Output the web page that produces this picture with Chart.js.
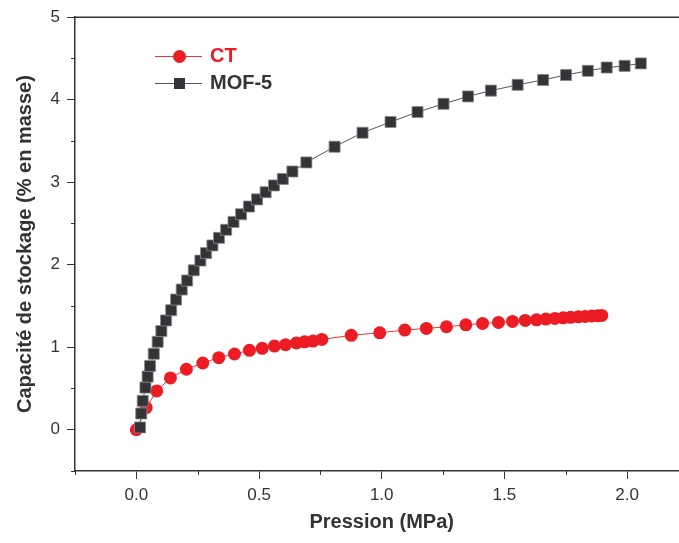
<!DOCTYPE html>
<html lang="fr">
<head>
<meta charset="utf-8">
<title>Capacité de stockage</title>
<script src="https://cdn.jsdelivr.net/npm/chart.js@4.4.0/dist/chart.umd.min.js"></script>
<style>
  html, body { margin: 0; padding: 0; background: #fff; overflow: hidden; }
  #wrap { position: relative; width: 697px; height: 543px; }
  .leg { position: absolute; left: 155px; height: 20px; font: bold 20px "Liberation Sans", Arial, sans-serif; }
  .leg .ln { position: absolute; left: 0; top: 10px; width: 47px; height: 1px; }
  .leg .mk { position: absolute; }
  .leg span.txt { position: absolute; left: 55px; top: -2px; white-space: nowrap; }
</style>
</head>
<body>
<div id="wrap">
  <canvas id="graphique"></canvas>
  <div class="leg" style="top:46px">
    <div class="ln" style="background:#e8333a"></div>
    <div class="mk" style="left:18px;top:4px;width:13px;height:13px;border-radius:50%;background:#ec1c24"></div>
    <span class="txt" style="color:#ec1c24">CT</span>
  </div>
  <div class="leg" style="top:73px">
    <div class="ln" style="background:#555"></div>
    <div class="mk" style="left:19px;top:5px;width:11px;height:11px;background:#333338"></div>
    <span class="txt" style="color:#333338">MOF-5</span>
  </div>
</div>
<script>
// données
const pressionCT = [0, 0.040, 0.083, 0.139, 0.204, 0.271, 0.336, 0.400, 0.461, 0.513, 0.563, 0.608, 0.652,
  0.686, 0.720, 0.756, 0.876, 0.992, 1.094, 1.182, 1.264, 1.343, 1.411, 1.476, 1.533, 1.585, 1.631,
  1.669, 1.706, 1.740, 1.770, 1.801, 1.829, 1.856, 1.880, 1.897];
const capaciteCT = [0, 0.269, 0.471, 0.628, 0.733, 0.809, 0.873, 0.918, 0.963, 0.987, 1.014, 1.030, 1.051,
  1.066, 1.075, 1.095, 1.144, 1.175, 1.208, 1.228, 1.248, 1.272, 1.289, 1.301, 1.313, 1.325, 1.332,
  1.341, 1.349, 1.356, 1.362, 1.368, 1.374, 1.379, 1.383, 1.385];

const pressionMOF = [0.015, 0.020, 0.026, 0.037, 0.046, 0.056, 0.071, 0.087, 0.102, 0.121, 0.142, 0.162,
  0.185, 0.207, 0.234, 0.261, 0.284, 0.310, 0.337, 0.366, 0.396, 0.427, 0.459, 0.492, 0.527, 0.561,
  0.597, 0.636, 0.693, 0.808, 0.922, 1.036, 1.146, 1.252, 1.352, 1.445, 1.554, 1.658, 1.751, 1.840,
  1.917, 1.990, 2.056];
const capaciteMOF = [0.028, 0.197, 0.350, 0.511, 0.644, 0.773, 0.921, 1.066, 1.196, 1.325, 1.449, 1.578,
  1.699, 1.808, 1.932, 2.050, 2.141, 2.234, 2.326, 2.423, 2.519, 2.612, 2.705, 2.792, 2.879, 2.961,
  3.040, 3.130, 3.240, 3.430, 3.600, 3.730, 3.850, 3.950, 4.040, 4.110, 4.180, 4.240, 4.300, 4.350,
  4.390, 4.410, 4.440];

const ticksX = [0, 0.5, 1, 1.5, 2];
const ticksY = [0, 1, 2, 3, 4, 5];

const couleurAxe = '#333';
const police = '"Liberation Sans", Arial, sans-serif';

function points(xs, ys) {
  return xs.map((x, i) => ({ x: x, y: ys[i] }));
}

function estMajeur(liste, v) {
  return liste.some(t => Math.abs(t - v) < 1e-6);
}

// cadre du haut + petites graduations
const cadre = {
  id: 'cadre',
  afterDraw(chart) {
    const { ctx, chartArea, scales } = chart;
    ctx.save();
    ctx.strokeStyle = couleurAxe;
    ctx.lineWidth = 1.5;
    ctx.beginPath();
    ctx.moveTo(chartArea.left, chartArea.top);
    ctx.lineTo(chartArea.right, chartArea.top);
    ctx.stroke();

    ctx.lineWidth = 1;
    ctx.beginPath();
    scales.x.ticks.forEach(t => {
      if (!estMajeur(ticksX, t.value)) {
        const px = Math.round(scales.x.getPixelForValue(t.value)) + 0.5;
        ctx.moveTo(px, chartArea.bottom);
        ctx.lineTo(px, chartArea.bottom + 4);
      }
    });
    scales.y.ticks.forEach(t => {
      if (!estMajeur(ticksY, t.value)) {
        const py = Math.round(scales.y.getPixelForValue(t.value)) + 0.5;
        ctx.moveTo(chartArea.left, py);
        ctx.lineTo(chartArea.left - 4, py);
      }
    });
    ctx.stroke();
    ctx.restore();
  }
};

const ctx = document.getElementById('graphique').getContext('2d');
new Chart(ctx, {
  type: 'scatter',
  data: {
    datasets: [
      {
        label: 'CT',
        data: points(pressionCT, capaciteCT),
        showLine: true,
        borderColor: '#e8333a',
        borderWidth: 1,
        backgroundColor: '#ec1c24',
        pointStyle: 'circle',
        pointRadius: 6.5,
        pointBorderColor: '#ec1c24',
        pointBorderWidth: 0,
        order: 1
      },
      {
        label: 'MOF-5',
        data: points(pressionMOF, capaciteMOF),
        showLine: true,
        borderColor: '#555',
        borderWidth: 1,
        backgroundColor: '#333338',
        pointStyle: 'rect',
        pointRadius: 7.8,
        pointBorderColor: '#8a8a8a',
        pointBorderWidth: 0.8,
        order: 0
      }
    ]
  },
  options: {
    responsive: true,
    maintainAspectRatio: false,
    animation: false,
    layout: { padding: { top: 15, right: 0, left: 0, bottom: 0 } },
    plugins: {
      legend: { display: false },
      tooltip: { enabled: false }
    },
    scales: {
      x: {
        type: 'linear',
        min: -0.25,
        max: 2.25,
        afterFit: s => { s.height = 72; },
        border: { display: true, color: couleurAxe, width: 1.5 },
        grid: {
          drawOnChartArea: false,
          drawTicks: true,
          tickLength: 8,
          tickWidth: 1,
          tickColor: c => estMajeur(ticksX, c.tick.value) ? couleurAxe : 'rgba(0,0,0,0)'
        },
        ticks: {
          stepSize: 0.25,
          maxRotation: 0,
          autoSkip: false,
          padding: 6,
          color: couleurAxe,
          font: { family: police, size: 17 },
          callback: v => estMajeur(ticksX, v) ? v.toFixed(1) : ''
        },
        title: {
          display: true,
          text: 'Pression (MPa)',
          color: couleurAxe,
          font: { family: police, size: 20, weight: 'bold' },
          padding: { top: 0, bottom: 9 }
        }
      },
      y: {
        type: 'linear',
        min: -0.5,
        max: 5,
        afterFit: s => { s.width = 75; },
        border: { display: true, color: couleurAxe, width: 1.5 },
        grid: {
          drawOnChartArea: false,
          drawTicks: true,
          tickLength: 8,
          tickWidth: 1,
          tickColor: c => estMajeur(ticksY, c.tick.value) ? couleurAxe : 'rgba(0,0,0,0)'
        },
        ticks: {
          stepSize: 0.5,
          autoSkip: false,
          padding: 7,
          color: couleurAxe,
          font: { family: police, size: 17 },
          callback: v => estMajeur(ticksY, v) ? String(Math.round(v)) : ''
        },
        title: {
          display: true,
          text: 'Capacité de stockage (% en masse)',
          color: couleurAxe,
          font: { family: police, size: 20, weight: 'bold' },
          padding: { top: 13, bottom: 0 }
        }
      }
    }
  },
  plugins: [cadre]
});
</script>
</body>
</html>
